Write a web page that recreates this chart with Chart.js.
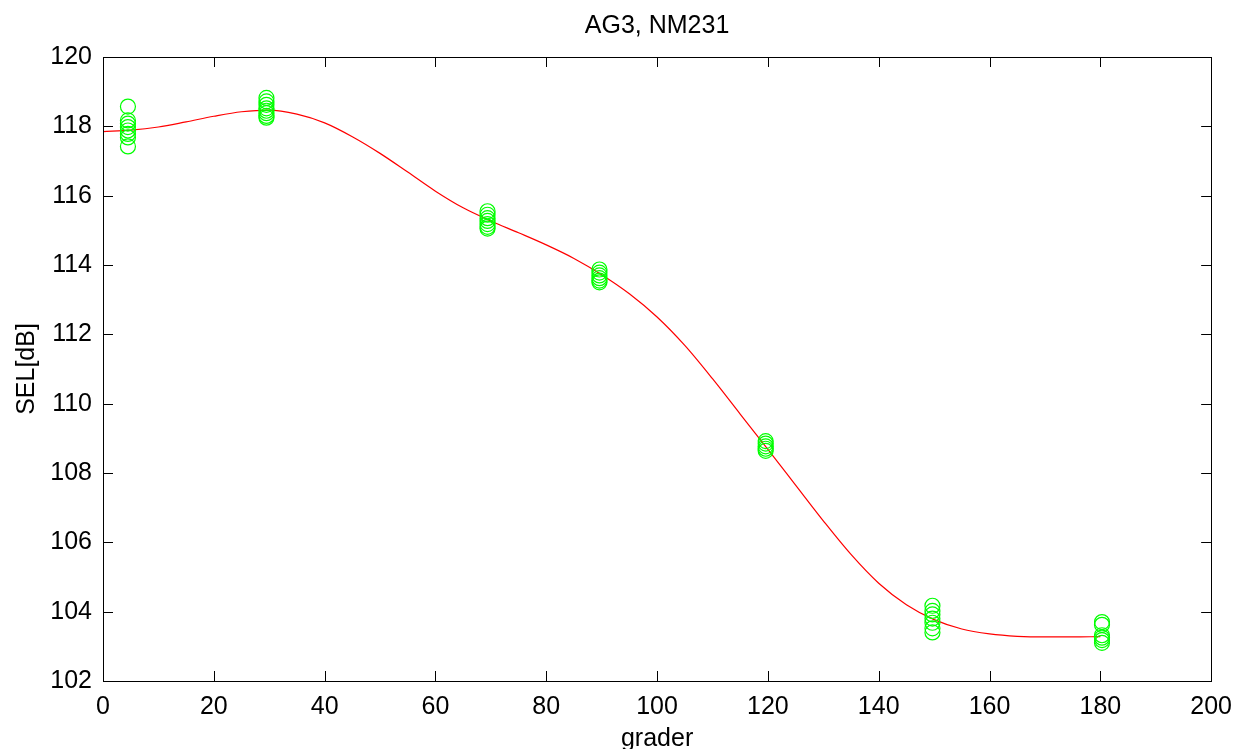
<!DOCTYPE html>
<html>
<head>
<meta charset="utf-8">
<script src="https://cdn.jsdelivr.net/npm/chart.js@4"></script>
<style>
  html, body { margin: 0; padding: 0; background: #fff; }
  #wrap { width: 1243px; height: 749px; }
</style>
</head>
<body>
<div id="wrap"><canvas id="chart" width="1243" height="749"></canvas></div>
<script>
// Measured angles (degrees) and the SEL readings at each one
var angles = [4.5, 29.5, 69.4, 89.6, 119.6, 149.7, 180.3];
var selMeasured = [
  [118.57, 118.17, 118.08, 117.98, 117.88, 117.78, 117.68, 117.42],
  [118.82, 118.72, 118.62, 118.52, 118.45, 118.38, 118.30, 118.25],
  [115.55, 115.45, 115.35, 115.27, 115.18, 115.10, 115.05],
  [113.87, 113.78, 113.70, 113.62, 113.55, 113.50],
  [108.92, 108.85, 108.77, 108.70, 108.64],
  [104.17, 104.02, 103.92, 103.80, 103.68, 103.52, 103.40],
  [103.70, 103.62, 103.32, 103.25, 103.18, 103.10]
];

// Fitted curve, every 5 degrees
var fitAngles = [0, 5, 10, 15, 20, 25, 30, 35, 40, 45, 50, 55, 60, 65, 70, 75, 80, 85, 90,
  95, 100, 105, 110, 115, 120, 125, 130, 135, 140, 145, 150, 155, 160, 165, 170, 175, 180];
var fitSEL = [117.85, 117.89, 117.98, 118.13, 118.29, 118.42, 118.47, 118.35, 118.10, 117.70,
  117.22, 116.68, 116.13, 115.65, 115.27, 114.93, 114.58, 114.19, 113.72, 113.17, 112.50,
  111.68, 110.72, 109.70, 108.68, 107.65, 106.62, 105.65, 104.82, 104.20, 103.77, 103.50,
  103.36, 103.29, 103.27, 103.27, 103.28];

var xTicks = [0, 20, 40, 60, 80, 100, 120, 140, 160, 180, 200];
var yTicks = [102, 104, 106, 108, 110, 112, 114, 116, 118, 120];

var font = { family: '"Liberation Sans", Arial, sans-serif', size: 25 };

var points = [];
angles.forEach(function (a, i) {
  selMeasured[i].forEach(function (v) { points.push({ x: a, y: v }); });
});
var curve = fitAngles.map(function (a, i) { return { x: a, y: fitSEL[i] }; });

// MATLAB style box with inward tick marks
var boxPlugin = {
  id: 'box',
  afterDraw: function (chart) {
    var a = chart.chartArea, c = chart.ctx;
    var xs = chart.scales.x, ys = chart.scales.y;
    c.save();
    c.strokeStyle = '#000';
    c.lineWidth = 1;
    c.strokeRect(Math.round(a.left) + 0.5, Math.round(a.top) + 0.5,
      Math.round(a.right - a.left), Math.round(a.bottom - a.top));
    c.beginPath();
    xTicks.forEach(function (t) {
      var px = Math.round(xs.getPixelForValue(t)) + 0.5;
      c.moveTo(px, a.bottom); c.lineTo(px, a.bottom - 10);
      c.moveTo(px, a.top); c.lineTo(px, a.top + 10);
    });
    yTicks.forEach(function (t) {
      var py = Math.round(ys.getPixelForValue(t)) + 0.5;
      c.moveTo(a.left, py); c.lineTo(a.left + 10, py);
      c.moveTo(a.right, py); c.lineTo(a.right - 10, py);
    });
    c.stroke();
    c.restore();
  }
};

new Chart(document.getElementById('chart').getContext('2d'), {
  type: 'scatter',
  data: {
    datasets: [{
      data: points,
      showLine: false,
      pointStyle: 'circle',
      pointRadius: 7.5,
      pointBorderWidth: 1.2,
      borderColor: '#00ff00',
      backgroundColor: 'rgba(0,0,0,0)'
    }, {
      data: curve,
      showLine: true,
      pointRadius: 0,
      borderColor: '#ff0000',
      borderWidth: 1.2,
      cubicInterpolationMode: 'monotone'
    }]
  },
  options: {
    responsive: false,
    animation: false,
    layout: { padding: { left: 0, right: 26, top: 0, bottom: 0 } },
    plugins: {
      legend: { display: false },
      tooltip: { enabled: false },
      title: {
        display: true,
        text: 'AG3, NM231',
        color: '#000',
        fullSize: false,
        font: { family: font.family, size: 25, weight: 'normal' },
        padding: { top: 11, bottom: 16 }
      }
    },
    scales: {
      x: {
        type: 'linear',
        min: 0,
        max: 200,
        afterFit: function (s) { s.height = 68; },
        afterBuildTicks: function (s) { s.ticks = xTicks.map(function (v) { return { value: v }; }); },
        grid: { display: false, drawTicks: false },
        border: { display: false },
        ticks: { color: '#000', font: font, padding: 11, maxRotation: 0 },
        title: { display: true, text: 'grader', color: '#000', font: font, padding: { top: -5, bottom: -5 } }
      },
      y: {
        type: 'linear',
        min: 102,
        max: 120,
        afterFit: function (s) { s.width = 103; },
        afterBuildTicks: function (s) { s.ticks = yTicks.map(function (v) { return { value: v }; }); },
        grid: { display: false, drawTicks: false },
        border: { display: false },
        ticks: { color: '#000', font: font, padding: 11 },
        title: { display: true, text: 'SEL[dB]', color: '#000', font: font, padding: { top: 12, bottom: 0 } }
      }
    }
  },
  plugins: [boxPlugin]
});
</script>
</body>
</html>
